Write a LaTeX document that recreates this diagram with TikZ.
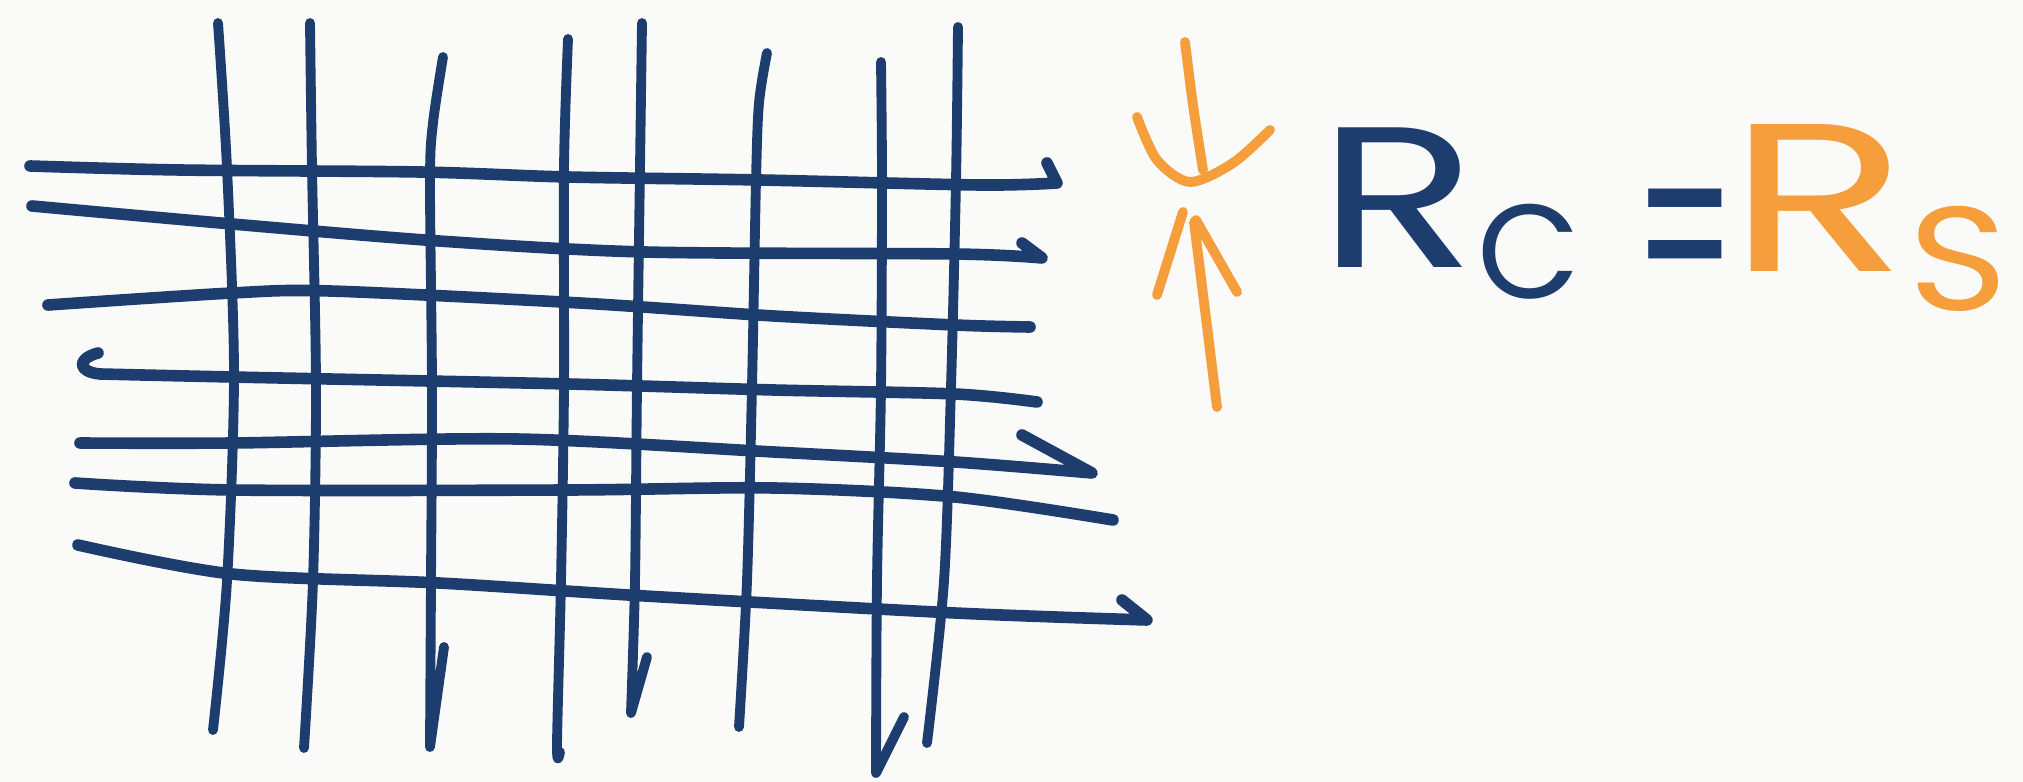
\documentclass[tikz,border=0pt]{standalone}
\usepackage{fontspec}
\setmainfont{Poppins}
\usetikzlibrary{calc}
\definecolor{InkClr}{rgb}{0.11,0.24,0.43}
\definecolor{MarkClr}{rgb}{0.96,0.62,0.23}
\definecolor{PaperClr}{rgb}{0.98,0.98,0.976}

\begin{document}
\begin{tikzpicture}[x=0.01cm,y=-0.01cm,line cap=round,line join=round,
  wire/.style={color=InkClr,line width=2.8pt},
  ink/.style={color=InkClr,line width=3.3pt},
  marker/.style={color=MarkClr,line width=2.8pt},
  hand/.style={inner sep=0pt,anchor=base west}]
\fill[PaperClr] (0,0) rectangle (2023,782);
\useasboundingbox (0,0) rectangle (2023,782);

% vertical strands
\draw[wire] plot[smooth] coordinates {(218,23) (227,168) (234,374) (227,581) (213,730)};
\draw[wire] plot[smooth] coordinates {(310,23) (312,168) (316,387) (313,581) (304,748)};
\draw[wire] plot[smooth] coordinates {(443,57) (433,123) (430,181) (432,387) (431,581) (430,747)} -- (444,647);
\draw[wire] plot[smooth] coordinates {(568,39) (564,168) (564,387) (561,581) (557,746) (560,752)};
\draw[wire] plot[smooth] coordinates {(642,23) (640,168) (637,387) (635,581) (631,713)} -- (647,657);
\draw[wire] plot[smooth] coordinates {(767,53) (759,103) (756,181) (752,387) (747,581) (739,727)};
\draw[wire] plot[smooth] coordinates {(881,62) (882,181) (881,387) (877,581) (876,773)} -- (904,717);
\draw[wire] plot[smooth] coordinates {(958,27) (956,181) (951,387) (944,581) (927,743)};

% horizontal strands
\draw[ink] plot[smooth] coordinates {(30,166) (180,170) (420,172) (568,177) (760,180) (980,185) (1057,183)} -- (1047,163);
\draw[ink] plot[smooth] coordinates {(32,206) (232,224) (439,241) (645,252) (955,254) (1042,258)} -- (1022,243);
\draw[ink] plot[smooth] coordinates {(48,305) (232,293) (330,291) (580,303) (774,316) (955,325) (1030,327)};
\draw[ink] (98,353) .. controls (76,359) and (78,372) .. (100,374)
  -- plot[smooth] coordinates {(100,374) (232,377) (568,384) (774,390) (955,394) (1037,402)};
\draw[ink] plot[smooth] coordinates {(80,443) (232,443) (516,439) (774,452) (955,462) (1092,473)} -- (1022,435);
\draw[ink] plot[smooth] coordinates {(75,483) (232,490) (568,490) (774,488) (955,497) (1113,520)};
\draw[ink] plot[smooth] coordinates {(78,545) (232,574) (439,583) (645,596) (955,613) (1147,620)} -- (1122,600);

% the two arrows
\draw[marker] plot[smooth] coordinates {(1185,42) (1193,105) (1203,170)};
\draw[marker] plot[smooth] coordinates {(1137,117) (1157,160) (1190,182) (1233,163) (1270,130)};
\draw[marker] (1157,295) -- (1183,212);
\draw[marker] (1196,220) -- (1237,292);
\draw[marker] plot[smooth] coordinates {(1194,222) (1205,310) (1217,407)};

\node[hand,text=InkClr,font=\fontsize{57}{57}\selectfont] (rc) at (1318,268)
  {\scalebox{1.3}[1]{R}\raisebox{-0.3cm}{\fontsize{38}{38}\selectfont C}};
\node[hand,text=InkClr,font=\fontsize{40}{40}\selectfont] (eq) at (1634,312)
  {\scalebox{1.0}[1.7]{=}};
\node[hand,text=MarkClr,font=\fontsize{60}{60}\selectfont] (rs) at (1728,272)
  {\scalebox{1.4}[1]{R}\raisebox{-0.38cm}{\fontsize{42}{42}\selectfont\scalebox{1.15}[1]{S}}};

\end{tikzpicture}
\end{document}
